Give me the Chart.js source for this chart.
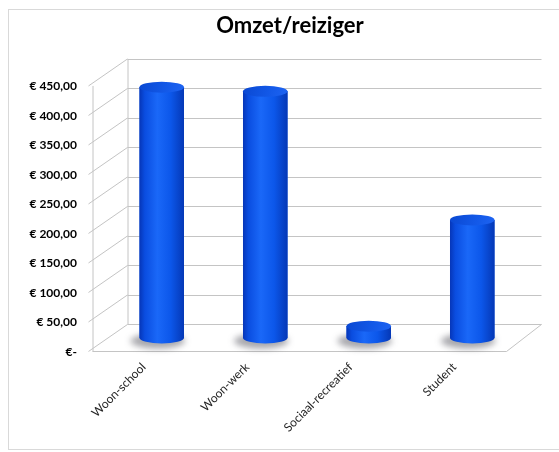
<!DOCTYPE html>
<html lang="nl">
<head>
<meta charset="UTF-8">
<title>Omzet/reiziger</title>
<script src="https://cdn.jsdelivr.net/npm/chart.js"></script>
<style>
  html, body { margin: 0; padding: 0; background: #fff; }
  #wrap { position: relative; width: 559px; height: 452px; }
</style>
</head>
<body>
<div id="wrap"><canvas id="chart"></canvas></div>
<script>
  const categories = ['Woon-school', 'Woon-werk', 'Sociaal-recreatief', 'Student'];
  const omzet = [425, 418, 20, 200];
  const yTickValues = [0, 50, 100, 150, 200, 250, 300, 350, 400, 450];

  function euro(v) {
    if (v === 0) return '€-';
    return '€ ' + v.toFixed(2).replace('.', ',');
  }

  // half of the 3D depth offset, in pixels
  const DX = 17.5, DY = 13.5;
  const ELL = 5.5;

  const frame3d = {
    id: 'frame3d',
    beforeDraw(chart) {
      const c = chart.ctx;
      c.save();
      c.fillStyle = '#fff';
      c.fillRect(0, 0, chart.width, chart.height);
      c.strokeStyle = '#d9d9d9';
      c.lineWidth = 1;
      c.strokeRect(8.5, 9.5, 600, 440);
      c.restore();
    },
    beforeDatasetsDraw(chart) {
      const c = chart.ctx;
      const a = chart.chartArea;
      const yb = chart.scales.yb;
      const fl = a.left - DX, fr = a.right - DX;
      const bl = a.left + DX, br = a.right + DX;
      const back = v => yb.getPixelForValue(v) - DY;
      const front = v => yb.getPixelForValue(v) + DY;
      const top = yTickValues[yTickValues.length - 1];
      c.save();
      c.lineWidth = 1;
      c.strokeStyle = '#c4c4c4';
      // back wall grid lines
      yTickValues.forEach(v => {
        const y = Math.round(back(v)) + 0.5;
        c.beginPath();
        c.moveTo(bl, y); c.lineTo(br, y);
        c.stroke();
      });
      // side wall lines
      yTickValues.forEach(v => {
        c.beginPath();
        c.moveTo(fl - 4, front(v));
        c.lineTo(bl, back(v));
        c.stroke();
      });
      c.beginPath();
      c.moveTo(fl + 0.5, front(0)); c.lineTo(fl + 0.5, front(top));
      c.moveTo(bl + 0.5, back(0)); c.lineTo(bl + 0.5, back(top));
      c.stroke();
      // floor
      c.beginPath();
      c.moveTo(fl, Math.round(front(0)) + 0.5);
      c.lineTo(fr, Math.round(front(0)) + 0.5);
      c.lineTo(br, back(0));
      c.stroke();
      // shadows under the cylinders
      const meta = chart.getDatasetMeta(0);
      meta.data.forEach(bar => {
        c.save();
        c.fillStyle = 'rgba(60,60,70,0.45)';
        c.filter = 'blur(3px)';
        c.beginPath();
        c.ellipse(bar.x - 4, bar.base + 3, bar.width / 2 + 5, ELL + 2, 0, 0, Math.PI * 2);
        c.fill();
        c.restore();
      });
      c.restore();
    },
    afterDatasetsDraw(chart) {
      const c = chart.ctx;
      const meta = chart.getDatasetMeta(0);
      meta.data.forEach(bar => {
        const w = bar.width, x0 = bar.x - w / 2, x1 = bar.x + w / 2;
        const g = c.createLinearGradient(x0, 0, x1, 0);
        g.addColorStop(0, '#0636b8');
        g.addColorStop(0.12, '#0a4de0');
        g.addColorStop(0.4, '#1a68f8');
        g.addColorStop(0.7, '#0c57ea');
        g.addColorStop(1, '#0538b6');
        c.save();
        c.fillStyle = g;
        c.beginPath();
        c.moveTo(x0, bar.y);
        c.lineTo(x0, bar.base);
        c.ellipse(bar.x, bar.base, w / 2, ELL, 0, Math.PI, 0, true);
        c.lineTo(x1, bar.y);
        c.closePath();
        c.fill();
        const t = c.createLinearGradient(x0, bar.y - ELL, x1, bar.y + ELL);
        t.addColorStop(0, '#0a48d2');
        t.addColorStop(0.6, '#1359e8');
        t.addColorStop(1, '#1e64f2');
        c.fillStyle = t;
        c.beginPath();
        c.ellipse(bar.x, bar.y, w / 2, ELL, 0, 0, Math.PI * 2);
        c.fill();
        c.restore();
      });
    }
  };

  new Chart(document.getElementById('chart'), {
    type: 'bar',
    data: {
      labels: categories,
      datasets: [{
        label: 'Omzet/reiziger',
        data: omzet,
        yAxisID: 'yb',
        backgroundColor: '#0d52e0',
        borderWidth: 0,
        categoryPercentage: 1,
        barPercentage: 0.43
      }]
    },
    options: {
      responsive: true,
      maintainAspectRatio: false,
      animation: false,
      layout: { padding: { left: 21, right: 0, top: 0, bottom: 0 } },
      plugins: {
        legend: { display: false },
        tooltip: { enabled: false },
        title: {
          display: true,
          text: 'Omzet/reiziger',
          color: '#000',
          font: { family: 'Lato', size: 22, weight: 'bold' },
          padding: { top: 13, bottom: 20 }
        }
      },
      scales: {
        x: {
          grid: { display: false, drawTicks: false },
          border: { display: false },
          ticks: {
            color: '#262626',
            font: { family: 'Lato', size: 12 },
            minRotation: 45,
            maxRotation: 45,
            labelOffset: -18,
            padding: 8
          },
          afterFit(scale) { scale.height = 100; }
        },
        y: {
          position: 'left',
          min: 0,
          max: 495.8,
          grid: { display: false, drawTicks: false },
          border: { display: false },
          ticks: {
            color: '#000',
            font: { family: 'Lato', size: 12, weight: 'bold' },
            padding: 33,
            callback: v => euro(v)
          },
          afterBuildTicks(scale) {
            scale.ticks = yTickValues.map(v => ({ value: v }));
          },
          afterFit(scale) { scale.width = 89; }
        },
        yr: {
          position: 'right',
          grid: { display: false, drawTicks: false },
          border: { display: false },
          ticks: { display: false },
          afterFit(scale) { scale.width = 35; }
        },
        yb: {
          display: false,
          position: 'left',
          min: -23.8,
          max: 472.1
        }
      }
    },
    plugins: [frame3d]
  });
</script>
</body>
</html>
